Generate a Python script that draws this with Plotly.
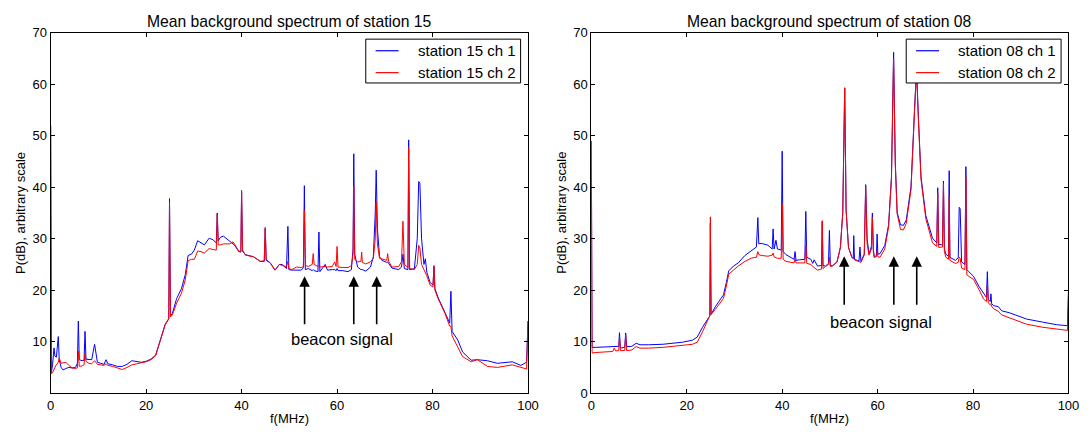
import plotly.graph_objects as go

# ---------------- data: station 15 ----------------
f15 = [0.0, 0.15, 0.4, 0.7, 0.9, 1.2, 1.6, 1.8, 2.2, 2.6, 3.2, 3.8, 4.5, 5.2, 5.6, 5.8, 6.0, 6.6, 7.0, 7.2,
       7.4, 8.0, 8.6, 9.2, 9.5, 9.8, 10.5, 11.2, 11.6, 12.0, 13.0, 14.0, 15.0, 16.0, 17.0, 18.0, 19.0, 20.0,
       21.0, 22.0, 23.0, 24.0, 24.75, 24.9, 25.1, 25.5, 26.4, 27.4, 28.2, 28.8, 29.5, 30.1, 30.8, 31.5, 32.2,
       33.2, 34.0, 34.7, 34.9, 35.1, 35.6, 36.2, 36.7, 37.5, 38.2, 38.5, 39.4, 39.85, 40.0, 40.2, 40.8, 42.5,
       43.9, 44.75, 44.95, 45.15, 46.0, 47.0, 47.9, 48.5, 49.4, 49.7, 49.9, 50.5, 51.5, 52.5, 52.95, 53.15,
       53.35, 54.0, 54.8, 55.0, 55.2, 56.0, 56.2, 56.4, 57.5, 58.0, 59.0, 59.5, 59.8, 60.0, 60.2, 61.2, 62.3,
       63.0, 63.35, 63.5, 63.7, 64.3, 65.0, 65.15, 65.3, 66.0, 67.0, 67.6, 68.0, 68.2, 68.45, 68.9, 69.4,
       70.4, 70.6, 70.8, 71.5, 72.9, 73.5, 73.8, 74.1, 74.85, 75.0, 75.2, 76.2, 76.8, 77.1, 77.35, 77.7,
       78.2, 78.5, 78.8, 79.5, 80.1, 80.3, 80.5, 81.2, 82.6, 83.6, 83.85, 84.1, 85.3, 86.3, 88.1, 89.4,
       91.5, 93.6, 96.7, 98.5, 99.7, 100.0]
p15_ch1 = [52.0, 4.0, 5.5, 8.8, 7.2, 7.0, 11.0, 6.5, 5.0, 4.5, 4.8, 5.0, 4.9, 5.0, 5.8, 14.0, 6.5, 6.3, 6.4, 12.0,
           6.6, 6.5, 6.5, 9.5, 8.0, 6.0, 5.8, 5.6, 6.5, 5.7, 5.5, 5.2, 5.2, 5.6, 6.3, 6.1, 6.0, 6.2,
           6.6, 7.4, 10.5, 13.4, 14.5, 37.8, 15.0, 15.5, 18.4, 20.3, 23.0, 26.75, 27.0, 27.8, 29.6, 29.2, 28.8,
           30.1, 29.8, 29.2, 35.0, 29.6, 30.3, 30.5, 30.1, 29.4, 29.0, 28.8, 27.5, 27.4, 39.1, 27.6, 26.9, 26.5,
           25.6, 25.6, 32.0, 25.8, 25.3, 23.9, 25.0, 25.0, 24.2, 32.4, 24.0, 23.9, 23.9, 23.9, 24.4, 40.3,
           24.0, 24.2, 23.8, 24.0, 23.8, 23.6, 31.3, 23.6, 25.0, 23.9, 24.0, 24.0, 23.8, 24.2, 23.8, 23.8, 23.6,
           24.0, 28.0, 46.5, 27.0, 24.5, 24.0, 24.0, 24.0, 23.7, 24.5, 26.5, 35.0, 43.3, 32.0, 26.5, 25.8,
           25.4, 25.5, 25.2, 24.3, 24.0, 24.5, 27.0, 24.2, 24.0, 49.2, 24.0, 24.2, 30.0, 41.1, 40.8, 30.0,
           25.0, 26.1, 23.5, 21.5, 21.0, 24.6, 20.3, 18.5, 15.7, 13.6, 19.8, 12.0, 10.3, 8.0, 6.4, 6.5,
           6.3, 5.8, 6.1, 5.4, 6.0, 14.0]
p15_ch2 = [52.0, 3.8, 4.0, 4.8, 5.0, 5.5, 6.0, 6.8, 5.8, 5.9, 6.0, 5.4, 4.9, 4.8, 4.9, 8.2, 5.2, 5.3, 5.5, 7.8,
           6.2, 5.8, 5.7, 6.3, 6.0, 5.6, 5.5, 5.4, 5.7, 5.4, 5.2, 4.9, 4.6, 5.0, 5.5, 5.7, 5.9, 6.1,
           6.5, 7.3, 10.3, 13.3, 14.4, 37.0, 14.8, 15.2, 17.5, 19.4, 22.0, 25.75, 26.0, 26.0, 27.6, 27.5, 27.2,
           28.1, 27.9, 27.8, 34.8, 28.8, 28.8, 29.0, 29.0, 29.0, 29.4, 28.9, 27.6, 27.5, 39.4, 27.8, 26.8, 26.5,
           25.6, 25.7, 32.2, 26.0, 25.3, 23.9, 25.0, 24.8, 24.6, 25.6, 24.2, 24.0, 24.5, 24.4, 24.6, 35.5,
           24.8, 24.6, 25.0, 27.1, 25.0, 24.6, 24.8, 24.5, 24.6, 24.5, 24.6, 25.5, 24.6, 28.5, 24.5, 24.4, 24.4,
           24.8, 27.0, 40.2, 26.0, 25.5, 25.6, 27.4, 25.4, 25.1, 25.5, 26.2, 30.0, 37.2, 29.0, 26.2, 26.1,
           25.8, 27.1, 25.6, 24.5, 24.6, 25.5, 33.4, 25.0, 24.4, 47.8, 24.2, 24.0, 25.0, 28.7, 28.2, 25.0,
           24.0, 23.5, 22.8, 21.0, 20.6, 24.8, 20.0, 18.3, 15.5, 13.0, 13.0, 11.1, 9.0, 7.1, 6.1, 6.5,
           5.2, 5.0, 5.5, 5.1, 4.7, 14.0]

# ---------------- data: station 08 ----------------
f08 = [0.0, 0.15, 1.0, 3.0, 4.5, 4.8, 5.1, 5.75, 5.9, 6.1, 7.0, 7.2, 7.4, 8.5, 9.4, 10.2, 12.0, 15.0, 19.1, 21.2,
       22.2, 23.3, 24.6, 24.85, 24.95, 25.1, 26.0, 26.7, 27.7, 28.3, 28.8, 29.8, 30.8, 32.2, 33.6, 34.6, 34.9,
       35.1, 35.6, 37.0, 37.9, 38.1, 38.3, 38.7, 39.0, 39.8, 40.0, 40.2, 40.8, 42.5, 42.7, 42.9, 43.6, 44.75,
       44.95, 45.15, 46.0, 46.4, 46.7, 47.4, 48.25, 48.4, 48.55, 49.1, 49.7, 49.9, 50.1, 50.5, 51.5, 52.2,
       52.7, 53.1, 53.4, 53.9, 54.6, 54.9, 55.0, 55.15, 55.7, 56.1, 56.3, 56.5, 57.2, 57.5, 57.8, 58.2, 58.7,
       58.9, 59.1, 59.3, 59.75, 59.9, 60.05, 60.5, 61.5, 62.3, 62.9, 63.35, 63.7, 64.1, 64.8, 65.4, 66.0,
       67.0, 67.7, 68.15, 68.6, 69.1, 70.1, 71.5, 72.4, 72.6, 72.8, 73.6, 73.8, 74.0, 74.3, 74.85, 75.0,
       75.15, 76.3, 76.9, 77.1, 77.3, 77.6, 78.3, 78.5, 78.7, 79.1, 80.1, 81.2, 82.2, 82.8, 83.0, 83.2,
       83.6, 83.75, 83.9, 84.3, 85.3, 86.0, 87.7, 91.2, 94.6, 97.5, 99.8, 100.0]
p08_ch1 = [49.0, 8.9, 8.9, 9.0, 9.0, 9.1, 9.0, 9.1, 11.75, 8.75, 8.9, 11.7, 9.05, 9.1, 9.7, 9.4, 9.4, 9.5, 9.9, 10.3,
           10.9, 12.8, 14.7, 15.0, 33.0, 15.3, 16.8, 17.8, 19.1, 21.5, 23.75, 24.7, 25.3, 26.75, 27.8, 28.4, 34.1,
           29.0, 29.1, 28.75, 28.0, 31.9, 28.0, 29.7, 28.0, 27.8, 47.0, 27.5, 26.9, 26.0, 27.5, 25.8, 25.9, 26.0,
           35.3, 26.4, 26.0, 25.2, 25.9, 24.7, 24.8, 33.3, 24.8, 24.7, 25.2, 31.6, 24.8, 24.7, 25.5, 28.3,
           35.1, 59.3, 35.5, 28.3, 26.4, 26.2, 30.6, 26.0, 25.8, 25.7, 28.4, 25.6, 27.0, 40.5, 30.0, 27.0, 28.5,
           35.0, 28.0, 26.4, 26.8, 30.9, 27.0, 27.1, 28.7, 32.7, 42.0, 66.2, 45.0, 35.1, 32.7, 32.6, 33.6,
           40.1, 54.4, 63.0, 52.5, 42.0, 34.5, 30.1, 29.2, 39.9, 28.9, 28.8, 41.2, 28.0, 27.0, 26.6, 43.2,
           26.4, 25.8, 26.3, 36.1, 35.8, 25.5, 25.0, 44.0, 24.0, 23.6, 22.7, 20.8, 19.3, 18.6, 23.6, 18.2,
           17.8, 19.3, 17.4, 17.0, 16.8, 16.0, 15.6, 14.4, 13.8, 13.3, 13.1, 20.0]
p08_ch2 = [49.0, 7.8, 7.9, 8.0, 8.1, 8.75, 8.2, 8.3, 10.9, 8.25, 8.3, 11.25, 8.25, 8.4, 9.05, 8.75, 8.75, 8.9, 9.2, 9.5,
           9.9, 11.9, 14.6, 15.0, 34.25, 15.3, 16.3, 17.2, 18.4, 20.8, 23.1, 23.9, 24.7, 25.6, 26.25, 26.4, 27.5,
           26.9, 26.75, 26.6, 26.8, 27.2, 26.5, 26.3, 26.2, 26.2, 36.7, 26.0, 25.6, 25.3, 26.1, 25.3, 25.3, 25.3,
           28.75, 25.2, 25.0, 24.6, 24.4, 23.9, 24.1, 33.5, 24.2, 24.6, 25.0, 26.4, 24.6, 24.7, 25.5, 28.3,
           35.0, 59.3, 35.5, 28.3, 26.4, 26.1, 26.2, 25.9, 25.7, 25.6, 25.6, 25.4, 26.8, 40.1, 29.0, 26.8, 28.0,
           34.2, 27.5, 26.4, 26.5, 27.7, 26.5, 26.4, 28.0, 32.3, 41.5, 65.0, 44.5, 34.8, 31.8, 31.7, 33.0,
           39.5, 54.0, 62.5, 52.0, 41.5, 33.9, 29.2, 28.5, 38.8, 28.3, 28.4, 40.7, 27.5, 26.4, 26.0, 38.2,
           25.8, 25.2, 25.4, 26.4, 26.2, 24.3, 24.0, 42.0, 23.0, 22.7, 22.1, 20.2, 18.3, 17.8, 21.0, 17.5,
           17.2, 17.4, 16.9, 16.4, 15.9, 15.2, 14.6, 13.4, 12.8, 12.4, 12.2, 19.0]

# beacon arrow positions (MHz)
beacon15 = [53.2, 63.5, 68.3]
beacon08 = [53.0, 63.4, 68.2]

FONT = "Liberation Sans, Arial, Helvetica, sans-serif"
BLUE = "#0000ff"
RED = "#ff0000"
W, H = 1092, 434


def PX(px):
    return px / W


def PY(py):
    return 1 - py / H


fig = go.Figure()
fig.add_trace(go.Scatter(x=f15, y=p15_ch1, mode="lines", name="station 15 ch 1", showlegend=False,
                         line=dict(color=BLUE, width=1), xaxis="x", yaxis="y"))
fig.add_trace(go.Scatter(x=f15, y=p15_ch2, mode="lines", name="station 15 ch 2", showlegend=False,
                         line=dict(color=RED, width=1), xaxis="x", yaxis="y"))
fig.add_trace(go.Scatter(x=f08, y=p08_ch1, mode="lines", name="station 08 ch 1", showlegend=False,
                         line=dict(color=BLUE, width=1), xaxis="x2", yaxis="y2"))
fig.add_trace(go.Scatter(x=f08, y=p08_ch2, mode="lines", name="station 08 ch 2", showlegend=False,
                         line=dict(color=RED, width=1), xaxis="x2", yaxis="y2"))

axis_common = dict(showline=True, linecolor="black", linewidth=1, mirror="ticks", ticks="inside",
                   ticklen=4, tickcolor="black", showgrid=False, zeroline=False,
                   tickfont=dict(family=FONT, size=13, color="black"))

L0, L1 = 47.3, 531.3
R0, R1 = 595.5, 1079.3
YT, YB = 26.7, 400.0
ydom = [PY(YB), PY(YT)]
fig.update_layout(
    width=W, height=H, margin=dict(l=0, r=0, t=0, b=0),
    paper_bgcolor="white", plot_bgcolor="white", showlegend=False,
    xaxis=dict(domain=[PX(L0), PX(L1)], range=[0, 100], tickvals=[0, 20, 40, 60, 80, 100],
               anchor="y", **axis_common),
    yaxis=dict(domain=ydom, range=[0, 70], tickvals=[10, 20, 30, 40, 50, 60, 70],
               anchor="x", **axis_common),
    xaxis2=dict(domain=[PX(R0), PX(R1)], range=[0, 100], tickvals=[0, 20, 40, 60, 80, 100],
                anchor="y2", **axis_common),
    yaxis2=dict(domain=ydom, range=[0, 70], tickvals=[0, 10, 20, 30, 40, 50, 60, 70],
                anchor="x2", **axis_common),
)

ann = []
shapes = []
titles = ["Mean background spectrum of station 15", "Mean background spectrum of station 08"]
names = [["station 15 ch 1", "station 15 ch 2"], ["station 08 ch 1", "station 08 ch 2"]]
for (x0, x1), t, nm in zip([(L0, L1), (R0, R1)], titles, names):
    cx = (x0 + x1) / 2
    ann.append(dict(text=t, x=PX(cx), y=PY(15.5), xref="paper", yref="paper", showarrow=False,
                    xanchor="center", yanchor="middle", font=dict(family=FONT, size=15.7, color="black")))
    ann.append(dict(text="f(MHz)", x=PX(cx), y=PY(426), xref="paper", yref="paper", showarrow=False,
                    xanchor="center", yanchor="middle", font=dict(family=FONT, size=13, color="black")))
    ann.append(dict(text="P(dB), arbitrary scale", x=PX(x0 - 30.0), y=PY((YT + YB) / 2), xref="paper",
                    yref="paper", showarrow=False, textangle=-90, xanchor="center", yanchor="middle",
                    font=dict(family=FONT, size=13, color="black")))
    # legend box
    bx1 = x1 - 7.5
    bx0 = bx1 - 157
    shapes.append(dict(type="rect", xref="paper", yref="paper", x0=PX(bx0), x1=PX(bx1), y0=PY(33.3),
                       y1=PY(78.7), line=dict(color="black", width=1), fillcolor="white", layer="above"))
    for row_y, col, label in [(45.3, BLUE, nm[0]), (68.0, RED, nm[1])]:
        shapes.append(dict(type="line", xref="paper", yref="paper", x0=PX(bx0 + 10), x1=PX(bx0 + 33.3),
                           y0=PY(row_y), y1=PY(row_y), line=dict(color=col, width=1.2), layer="above"))
        ann.append(dict(text=label, x=PX(bx0 + 50.5), y=PY(row_y), xref="paper", yref="paper",
                        showarrow=False, xanchor="left", yanchor="middle",
                        font=dict(family=FONT, size=15, color="black")))

# beacon arrows
for xa, ya, bl, head, tail in [("x", "y", beacon15, 22.7, 13.1), ("x2", "y2", beacon08, 26.6, 16.9)]:
    for b in bl:
        ann.append(dict(text="", x=b, y=head, ax=b, ay=tail, xref=xa, yref=ya, axref=xa, ayref=ya,
                        showarrow=True, arrowhead=2, arrowsize=1.3, arrowwidth=1.6, arrowcolor="black"))
ann.append(dict(text="beacon signal", x=60.95, y=10.6, xref="x", yref="y", showarrow=False,
                font=dict(family=FONT, size=16.5, color="black")))
ann.append(dict(text="beacon signal", x=60.8, y=13.9, xref="x2", yref="y2", showarrow=False,
                font=dict(family=FONT, size=16.5, color="black")))
fig.update_layout(annotations=ann, shapes=shapes)

fig.write_html("out.html")
